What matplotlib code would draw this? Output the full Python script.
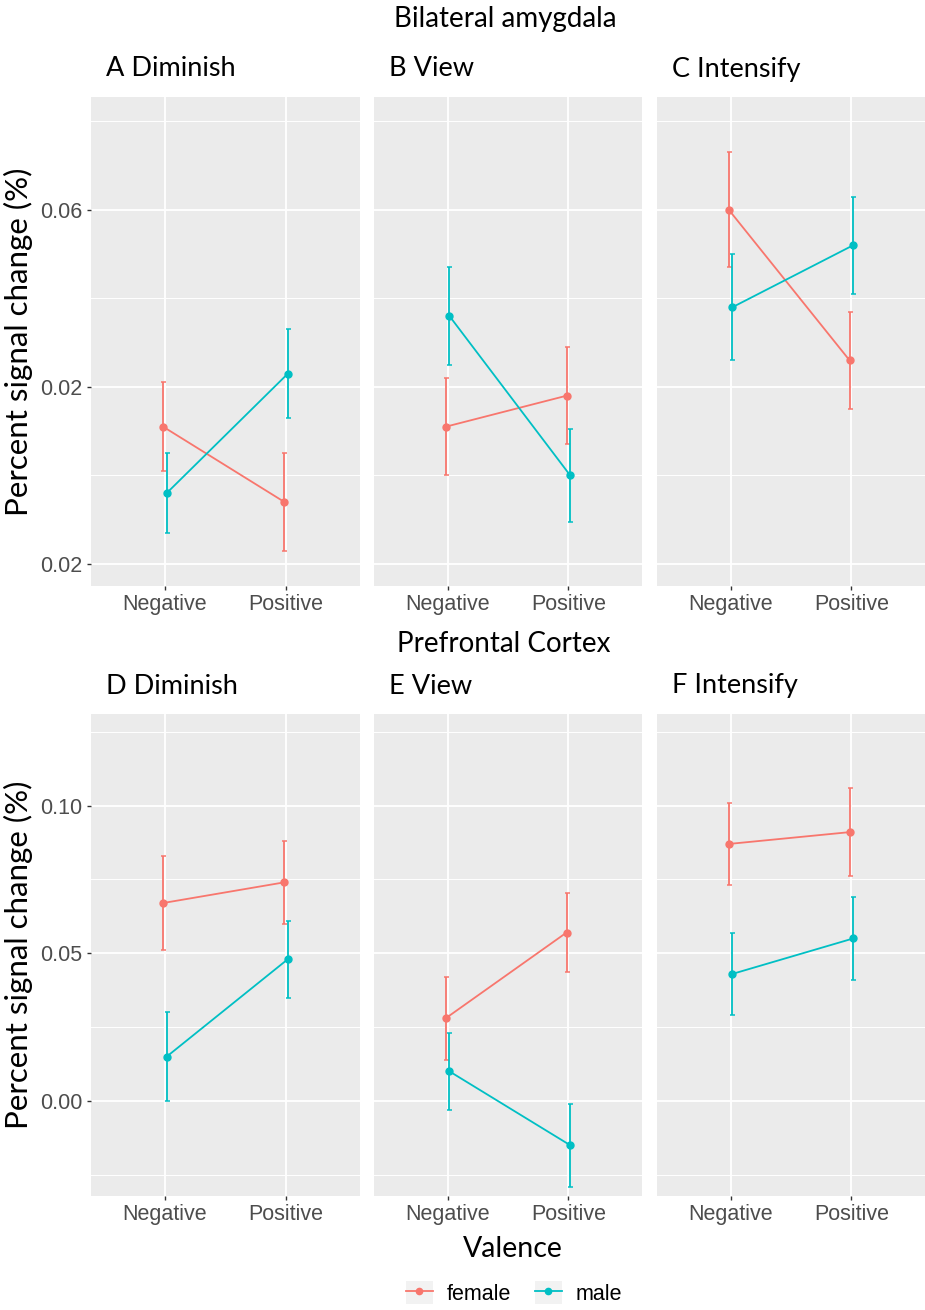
"""Percent signal change by valence, sex and regulation condition (2x3 facets)."""

import matplotlib

matplotlib.use("Agg")
import matplotlib.pyplot as plt
from matplotlib.patches import Rectangle
import numpy as np


VALENCE = ["Negative", "Positive"]
SEXES = ["female", "male"]
COLORS = {"female": "#F8766D", "male": "#00BFC4"}

# Bilateral amygdala (panels A-C): means and error half-widths, [Negative, Positive]
AMY_TITLES = ["A Diminish", "B View", "C Intensify"]
AMY_FEMALE = [[0.011, -0.006], [0.011, 0.018], [0.060, 0.026]]
AMY_FEMALE_ERR = [[0.010, 0.011], [0.011, 0.011], [0.013, 0.011]]
AMY_MALE = [[-0.004, 0.023], [0.036, 0.000], [0.038, 0.052]]
AMY_MALE_ERR = [[0.009, 0.010], [0.011, 0.0105], [0.012, 0.011]]
AMY_TICKS = [-0.02, 0.02, 0.06]
AMY_TICKLABELS = ["0.02", "0.02", "0.06"]  # as printed in the source figure

# Prefrontal cortex (panels D-F)
PFC_TITLES = ["D Diminish", "E View", "F Intensify"]
PFC_FEMALE = [[0.067, 0.074], [0.028, 0.057], [0.087, 0.091]]
PFC_FEMALE_ERR = [[0.016, 0.014], [0.014, 0.0135], [0.014, 0.015]]
PFC_MALE = [[0.015, 0.048], [0.010, -0.015], [0.043, 0.055]]
PFC_MALE_ERR = [[0.015, 0.013], [0.013, 0.014], [0.014, 0.014]]
PFC_TICKS = [0.00, 0.05, 0.10]
PFC_TICKLABELS = ["0.00", "0.05", "0.10"]

W, H = 925, 1310
TITLE_FONT = ["Lato", "DejaVu Sans"]
TICK_FONT = ["Liberation Sans", "DejaVu Sans"]
TICK_SIZE = 15.5


def px_axes(fig, x0, y0, x1, y1):
    return fig.add_axes([x0 / W, 1 - y1 / H, (x1 - x0) / W, (y1 - y0) / H])


def style_axes(ax, ylim, ticks, ticklabels, first_col):
    ax.set_facecolor("#EBEBEB")
    for s in ax.spines.values():
        s.set_visible(False)
    ax.set_xticks([1, 2])
    ax.set_xticklabels(VALENCE, fontsize=TICK_SIZE, color="#4D4D4D", family=TICK_FONT)
    ax.set_yticks(ticks)
    step = ticks[1] - ticks[0]
    minors = [t + step / 2 for t in ticks] + [ticks[0] - step / 2]
    ax.set_yticks(minors, minor=True)
    if first_col:
        ax.set_yticklabels(ticklabels, fontsize=TICK_SIZE, color="#4D4D4D", family=TICK_FONT)
        ax.tick_params(axis="y", which="major", length=3, width=1, color="#333333", pad=3)
    else:
        ax.set_yticklabels([])
        ax.tick_params(axis="y", which="major", length=0)
    ax.tick_params(axis="x", which="major", length=3, width=1, color="#333333", pad=3)
    ax.tick_params(axis="y", which="minor", length=0)
    # limits last: set_yticks would otherwise widen them
    ax.set_xlim(0.39, 2.61)
    ax.set_ylim(*ylim)
    ax.grid(True, which="major", color="white", linewidth=1.3)
    ax.grid(True, which="minor", axis="y", color="white", linewidth=0.7)
    ax.set_axisbelow(True)


def draw_panel(ax, female, female_err, male, male_err):
    x = np.array([1, 2])
    dodge = 0.015
    for sex, vals, errs, dx in [("female", female, female_err, -dodge),
                                ("male", male, male_err, dodge)]:
        ax.errorbar(x + dx, vals, yerr=errs, color=COLORS[sex], fmt="o-",
                    markersize=5, linewidth=1.3, elinewidth=1.3,
                    capsize=1.8, capthick=1.1, zorder=3)


def main():
    fig = plt.figure(figsize=(W / 100, H / 100), dpi=100)

    cols = [(91, 360), (374, 642), (657, 925)]
    rows = [
        dict(y0=97, y1=586, ylim=(-0.025, 0.0855), ticks=AMY_TICKS, labels=AMY_TICKLABELS,
             titles=AMY_TITLES, f=AMY_FEMALE, fe=AMY_FEMALE_ERR, m=AMY_MALE, me=AMY_MALE_ERR),
        dict(y0=714, y1=1196, ylim=(-0.0322, 0.1310), ticks=PFC_TICKS, labels=PFC_TICKLABELS,
             titles=PFC_TITLES, f=PFC_FEMALE, fe=PFC_FEMALE_ERR, m=PFC_MALE, me=PFC_MALE_ERR),
    ]

    for r in rows:
        for i, (x0, x1) in enumerate(cols):
            ax = px_axes(fig, x0, r["y0"], x1, r["y1"])
            style_axes(ax, r["ylim"], r["ticks"], r["labels"], i == 0)
            draw_panel(ax, r["f"][i], r["fe"][i], r["m"][i], r["me"][i])
            fig.text((x0 + 15) / W, 1 - (r["y0"] - 28) / H, r["titles"][i],
                     fontsize=19.5, family=TITLE_FONT, color="black", va="center", ha="left")
        fig.text(18 / W, 1 - ((r["y0"] + r["y1"]) / 2) / H, "Percent signal change (%)",
                 rotation=90, fontsize=22.5, family=TITLE_FONT, va="center", ha="center")

    fig.text(505 / W, 1 - 19 / H, "Bilateral amygdala", fontsize=20,
             family=TITLE_FONT, ha="center", va="center")
    fig.text(504 / W, 1 - 644 / H, "Prefrontal Cortex", fontsize=20,
             family=TITLE_FONT, ha="center", va="center")
    fig.text(513 / W, 1 - 1249 / H, "Valence", fontsize=20.5,
             family=TITLE_FONT, ha="center", va="center")

    # legend with grey key boxes like ggplot
    handles = []
    for s in SEXES:
        box = Rectangle((0, 0), 1, 1, facecolor="#F2F2F2", edgecolor="none")
        line = plt.Line2D([], [], color=COLORS[s], marker="o", markersize=4.5, linewidth=1.3)
        handles.append((box, line))
    fig.legend(handles, SEXES, loc="center", bbox_to_anchor=(514 / W, 1 - 1293 / H),
               ncol=2, frameon=False, handlelength=1.25, handleheight=1.25,
               columnspacing=1.1, handletextpad=0.65,
               prop={"family": TICK_FONT, "size": TICK_SIZE})

    fig.savefig("out.png", dpi=100, facecolor="white")


if __name__ == "__main__":
    main()
